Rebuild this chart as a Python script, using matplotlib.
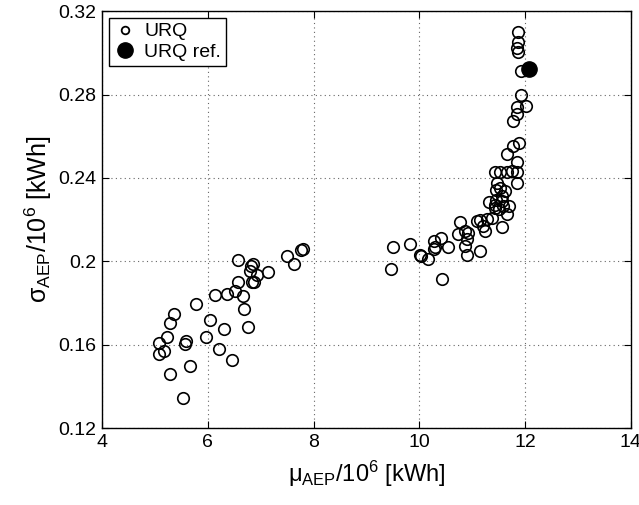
import matplotlib
matplotlib.use("Agg")
from matplotlib import pyplot as plt
from matplotlib.lines import Line2D

plt.rcParams['font.family'] = ['Liberation Sans', 'DejaVu Sans']
plt.rcParams['mathtext.fontset'] = 'custom'
plt.rcParams['mathtext.rm'] = 'Liberation Sans'
plt.rcParams['mathtext.it'] = 'Liberation Sans'
plt.rcParams['mathtext.bf'] = 'Liberation Sans:bold'

# URQ samples, mean and std of AEP (both /10^6 kWh)
mu_left = [5.08, 5.08, 5.17, 5.23, 5.28, 5.36, 5.28, 5.53, 5.56, 5.59,
           5.66, 5.78, 5.96, 6.03, 6.13, 6.21, 6.30, 6.36, 6.46, 6.52,
           6.56, 6.57, 6.66, 6.68, 6.76, 6.79, 6.82, 6.85, 6.84, 6.87,
           6.92, 7.14, 7.50, 7.62, 7.77, 7.80]
sigma_left = [0.1554, 0.1610, 0.1570, 0.1638, 0.1705, 0.1748, 0.1460, 0.1347, 0.1605, 0.1618,
              0.1500, 0.1798, 0.1637, 0.1721, 0.1840, 0.1578, 0.1676, 0.1844, 0.1527, 0.1860,
              0.1900, 0.2005, 0.1836, 0.1772, 0.1684, 0.1952, 0.1976, 0.1989, 0.1901, 0.1900,
              0.1936, 0.1950, 0.2024, 0.1987, 0.2053, 0.2059]

mu_right = [9.46, 9.51, 9.82, 10.01, 10.04, 10.16, 10.42, 10.28, 10.30, 10.27,
            10.41, 10.55, 10.77, 10.74, 10.86, 10.93, 10.90, 10.86, 10.91, 11.15,
            11.09, 11.15, 11.21, 11.24, 11.29, 11.37, 11.31, 11.43, 11.46, 11.50,
            11.45, 11.56, 11.56, 11.62, 11.59, 11.70, 11.85, 11.47, 11.56, 11.44,
            11.66, 11.53,
            11.87, 11.86, 11.84, 11.87, 11.92, 11.92, 11.84, 12.01, 11.84, 11.78,
            11.89, 11.77, 11.65, 11.84, 11.43, 11.53, 11.65, 11.75, 11.84]
sigma_right = [0.1965, 0.2070, 0.2081, 0.2030, 0.2026, 0.2010, 0.1914, 0.2097, 0.2070, 0.2057,
               0.2113, 0.2070, 0.2188, 0.2129, 0.2145, 0.2134, 0.2105, 0.2076, 0.2029, 0.2050,
               0.2193, 0.2200, 0.2169, 0.2145, 0.2204, 0.2209, 0.2284, 0.2272, 0.2296, 0.2249,
               0.2344, 0.2166, 0.2288, 0.2336, 0.2265, 0.2265, 0.2376, 0.2376, 0.2312, 0.2256,
               0.2225, 0.2352,
               0.3102, 0.3054, 0.3022, 0.3006, 0.2914, 0.2800, 0.2741, 0.2744, 0.2705, 0.2673,
               0.2570, 0.2554, 0.2514, 0.2475, 0.2430, 0.2427, 0.2430, 0.2435, 0.2430]

mu_ref = [12.08]
sigma_ref = [0.2924]

x_ticks = [4, 6, 8, 10, 12, 14]
y_ticks = [0.12, 0.16, 0.20, 0.24, 0.28, 0.32]
y_tick_labels = ['0.12', '0.16', '0.2', '0.24', '0.28', '0.32']

fig = plt.figure(figsize=(6.39, 5.05), dpi=100)
ax = fig.add_axes([0.160, 0.152, 0.827, 0.826])

ax.plot(mu_left + mu_right, sigma_left + sigma_right, 'o', mfc='none', mec='black',
        ms=8.3, mew=1.2, zorder=3)
ax.plot(mu_ref, sigma_ref, 'o', mfc='black', mec='black', ms=11, zorder=4)

ax.set_xlim(4, 14)
ax.set_ylim(0.12, 0.32)
ax.set_xticks(x_ticks)
ax.set_yticks(y_ticks)
ax.set_yticklabels(y_tick_labels)
ax.tick_params(direction='in', length=5, width=0.8, top=True, right=True,
               labelsize=14, pad=4)
ax.grid(True, linestyle=(0, (1, 3)), color='#666666', linewidth=0.8)
for sp in ax.spines.values():
    sp.set_linewidth(1.0)

ax.set_xlabel(r'$\mu_{AEP}/10^{6}$ [kWh]', fontsize=17, labelpad=6)
ax.set_ylabel(r'$\sigma_{AEP}/10^{6}$ [kWh]', fontsize=18, labelpad=3)

handles = [Line2D([], [], ls='none', marker='o', mfc='none', mec='black', ms=5.5, mew=1.3),
           Line2D([], [], ls='none', marker='o', mfc='black', mec='black', ms=11)]
leg = ax.legend(handles, ['URQ', 'URQ ref.'], loc='upper left', fontsize=14,
                fancybox=False, framealpha=1, edgecolor='black', handlelength=1.1,
                handletextpad=0.45, borderpad=0.25, labelspacing=0.15,
                borderaxespad=0.35)
leg.get_frame().set_linewidth(1.0)

fig.savefig('out.png', dpi=100)
